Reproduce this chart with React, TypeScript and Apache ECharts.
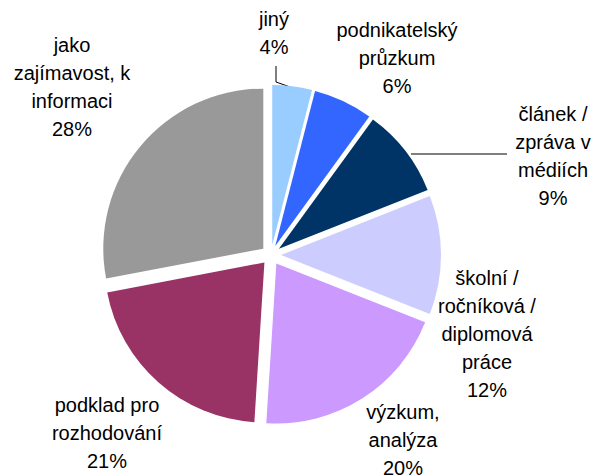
import React, { useEffect, useRef } from "react";
import * as echarts from "echarts";

const categories = [
  "jiný",
  "podnikatelský\nprůzkum",
  "článek /\nzpráva v\nmédiích",
  "školní /\nročníková /\ndiplomová\npráce",
  "výzkum,\nanalýza",
  "podklad pro\nrozhodování",
  "jako\nzajímavost, k\ninformaci",
];
const values = [4, 6, 9, 12, 20, 21, 28];
const colors = ["#99ccff", "#3366ff", "#003366", "#ccccff", "#cc99ff", "#993366", "#999999"];

// label block centres (layout only)
const labelCenters: number[][] = [
  [274, 33],
  [397, 58],
  [553, 156],
  [487, 334],
  [403, 440],
  [107, 433],
  [72, 87],
];
const leaderLines: number[][][] = [
  [[276, 66], [276, 82], [293, 88]],
  [[411, 154], [507, 154]],
];

export default function App() {
  const ref = useRef<HTMLDivElement>(null);
  useEffect(() => {
    document.body.style.margin = "0";
    const chart = echarts.init(ref.current!, null, { renderer: "svg" });
    const labelTexts = categories.map((c, i) => ({
      type: "text",
      silent: true,
      style: {
        text: c + "\n" + values[i] + "%",
        x: labelCenters[i][0],
        y: labelCenters[i][1],
        textAlign: "center",
        textVerticalAlign: "middle",
        fontFamily: "Liberation Sans, Arial, sans-serif",
        fontSize: 20,
        lineHeight: 28,
        fill: "#000000",
      },
    }));
    const lines = leaderLines.map((pts) => ({
      type: "polyline",
      silent: true,
      shape: { points: pts },
      style: { stroke: "#000000", lineWidth: 1, fill: "none" },
    }));
    chart.setOption({
      animation: false,
      backgroundColor: "#ffffff",
      graphic: [...lines, ...labelTexts],
      series: [
        {
          type: "pie",
          center: [271, 255],
          radius: 160,
          startAngle: 90,
          clockwise: true,
          selectedMode: "multiple",
          selectedOffset: 10,
          emphasis: { disabled: true },
          itemStyle: { borderWidth: 0 },
          label: { show: false },
          labelLine: { show: false },
          data: categories.map((name, i) => ({
            name,
            value: values[i],
            selected: true,
            itemStyle: { color: colors[i] },
          })),
        },
      ],
    });
    return () => chart.dispose();
  }, []);
  return <div ref={ref} style={{ width: 596, height: 476 }} />;
}
